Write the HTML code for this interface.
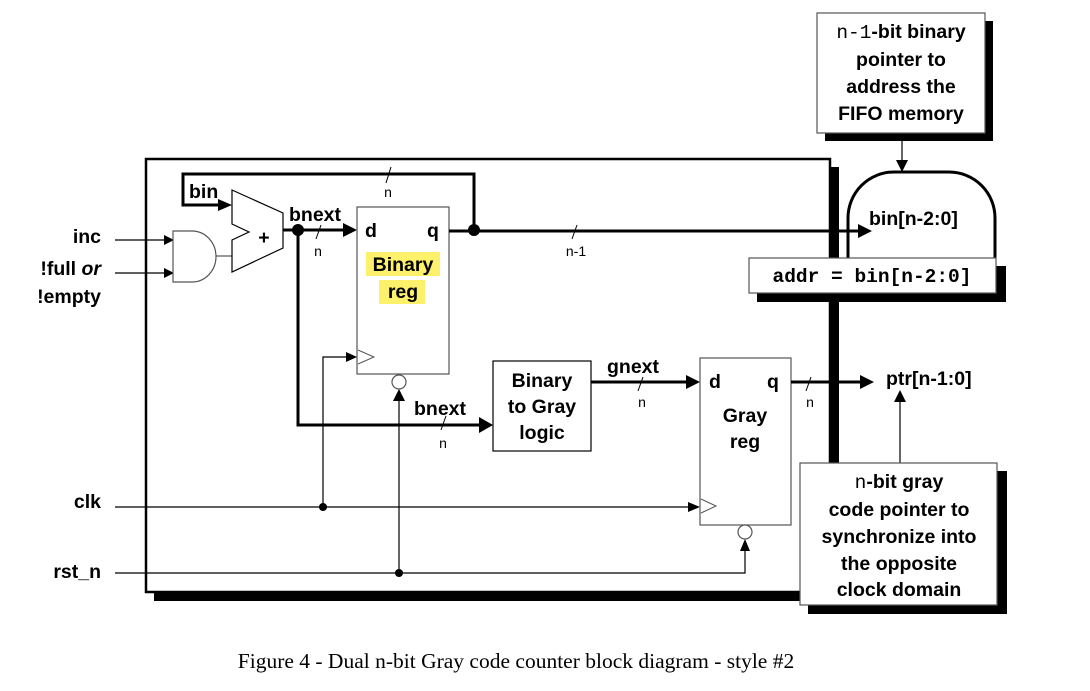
<!DOCTYPE html>
<html><head><meta charset="utf-8"><style>
body{margin:0;background:#fff;width:1090px;height:691px;overflow:hidden}
svg{display:block}
text{font-family:"Liberation Sans",Arial,sans-serif;font-weight:bold;font-size:19.5px;fill:#000}
.m{font-family:"Liberation Mono",monospace}
.s{font-size:14px;font-weight:normal}
</style></head><body>
<svg width="1090" height="691" viewBox="0 0 1090 691">
<defs>
<marker id="a" markerWidth="10" markerHeight="10" refX="9" refY="5" orient="auto" markerUnits="userSpaceOnUse"><path d="M0,0 L10,5 L0,10z"/></marker>
</defs>
<rect x="154" y="167" width="685" height="434" fill="#000"/>
<rect x="146" y="159" width="684" height="433" fill="#fff" stroke="#000" stroke-width="2.5"/>

<text x="101" y="243" text-anchor="end">inc</text>
<text x="101" y="275" text-anchor="end">!full <tspan font-style="italic">or</tspan></text>
<text x="101" y="303" text-anchor="end">!empty</text>
<text x="101" y="508" text-anchor="end">clk</text>
<text x="101" y="578" text-anchor="end">rst_n</text>
<line x1="115" y1="240" x2="173" y2="240" stroke="#000" stroke-width="1.2" marker-end="url(#a)"/>
<line x1="115" y1="273" x2="173" y2="273" stroke="#000" stroke-width="1.2" marker-end="url(#a)"/>

<path d="M173,231 H192 A24,25.5 0 0 1 192,282 H173z" fill="#fff" stroke="#555" stroke-width="1.2"/>
<line x1="216" y1="256" x2="232" y2="256" stroke="#555" stroke-width="1.2"/>
<path d="M232,190 L283,213 L283,248 L232,272 L232,240 L249,232 L232,224z" fill="#fff" stroke="#000" stroke-width="1.2"/>
<text x="264" y="244" text-anchor="middle" font-size="16">+</text>

<polyline points="474,230 474,174 183,174 183,205 228,205" fill="none" stroke="#000" stroke-width="3"/>
<path d="M218,199 L232,205 L218,211z"/>
<text x="189" y="198">bin</text>
<line x1="386" y1="183" x2="391" y2="167" stroke="#000" stroke-width="1"/>
<text x="388" y="197" class="s" text-anchor="middle" font-weight="bold">n</text>

<line x1="283" y1="230" x2="345" y2="230" stroke="#000" stroke-width="3"/>
<path d="M343,223 L357,230 L343,237z"/>
<circle cx="298" cy="230" r="6"/>
<text x="289" y="221">bnext</text>
<line x1="316" y1="239" x2="321" y2="225" stroke="#000" stroke-width="1"/>
<text x="318" y="256" class="s" font-weight="bold" text-anchor="middle">n</text>
<polyline points="298,230 298,425 481,425" fill="none" stroke="#000" stroke-width="3"/>
<path d="M479,417 L493,425 L479,433z"/>
<text x="414" y="415">bnext</text>
<line x1="441" y1="430" x2="446" y2="416" stroke="#000" stroke-width="1"/>
<text x="443" y="448" class="s" font-weight="bold" text-anchor="middle">n</text>

<rect x="357" y="207" width="92" height="167" fill="#fff" stroke="#555" stroke-width="1.2"/>
<text x="365" y="237">d</text>
<text x="427" y="237">q</text>
<rect x="366" y="252" width="74" height="24" fill="#fdf06a"/>
<rect x="379" y="280" width="46" height="24" fill="#fdf06a"/>
<text x="403" y="271" text-anchor="middle">Binary</text>
<text x="403" y="298" text-anchor="middle">reg</text>
<path d="M358,350 L374,357 L358,364" fill="none" stroke="#555" stroke-width="1"/>
<circle cx="399" cy="382" r="7" fill="#fff" stroke="#555" stroke-width="1.2"/>

<line x1="449" y1="231" x2="860" y2="231" stroke="#000" stroke-width="3"/>
<circle cx="474" cy="230" r="6"/>
<line x1="572" y1="239" x2="577" y2="225" stroke="#000" stroke-width="1"/>
<text x="576" y="256" class="s" font-weight="bold" text-anchor="middle">n-1</text>

<line x1="115" y1="507" x2="688" y2="507" stroke="#000" stroke-width="1.2"/>
<path d="M688,502 L700,507 L688,512z"/>
<circle cx="323" cy="507" r="4"/>
<polyline points="323,507 323,357 348,357" fill="none" stroke="#000" stroke-width="1.2"/>
<path d="M346,352 L357,357 L346,362z"/>
<polyline points="115,573 745,573 745,551" fill="none" stroke="#000" stroke-width="1.2"/>
<path d="M740,551 L745,539 L750,551z"/>
<circle cx="399" cy="573" r="4"/>
<line x1="399" y1="573" x2="399" y2="400" stroke="#000" stroke-width="1.2"/>
<path d="M393,401 L399,389 L405,401z"/>

<rect x="493" y="361" width="98" height="90" fill="#fff" stroke="#000" stroke-width="1.2"/>
<text x="542" y="387" text-anchor="middle">Binary</text>
<text x="542" y="413" text-anchor="middle">to Gray</text>
<text x="542" y="439" text-anchor="middle">logic</text>
<line x1="591" y1="382" x2="688" y2="382" stroke="#000" stroke-width="3"/>
<path d="M686,375 L700,382 L686,389z"/>
<text x="607" y="373">gnext</text>
<line x1="638" y1="391" x2="643" y2="377" stroke="#000" stroke-width="1"/>
<text x="642" y="407" class="s" font-weight="bold" text-anchor="middle">n</text>

<rect x="700" y="358" width="91" height="167" fill="#fff" stroke="#555" stroke-width="1.2"/>
<text x="709" y="388">d</text>
<text x="767" y="388">q</text>
<text x="745" y="422" text-anchor="middle">Gray</text>
<text x="745" y="448" text-anchor="middle">reg</text>
<path d="M701,499 L716,506 L701,513" fill="none" stroke="#555" stroke-width="1"/>
<circle cx="745" cy="532" r="7" fill="#fff" stroke="#555" stroke-width="1.2"/>
<line x1="791" y1="382" x2="862" y2="382" stroke="#000" stroke-width="3"/>
<path d="M860,375 L874,382 L860,389z"/>
<line x1="806" y1="391" x2="811" y2="377" stroke="#000" stroke-width="1"/>
<text x="810" y="407" class="s" font-weight="bold" text-anchor="middle">n</text>
<text x="886" y="385">ptr[n-1:0]</text>
<line x1="900" y1="463" x2="900" y2="402" stroke="#000" stroke-width="1.2"/>
<path d="M894,402 L900,390 L906,402z"/>

<path d="M848,260 V218 A46,46 0 0 1 894,172 H949 A46,46 0 0 1 995,218 V260" fill="#fff" stroke="#000" stroke-width="3"/>
<line x1="836" y1="231" x2="860" y2="231" stroke="#000" stroke-width="3"/>
<path d="M858,224 L872,231 L858,238z"/>
<text x="869" y="225">bin[n-2:0]</text>
<line x1="902" y1="134" x2="902" y2="162" stroke="#000" stroke-width="1.2"/>
<path d="M896,160 L902,172 L908,160z"/>

<rect x="757" y="266" width="249" height="36" fill="#000"/>
<rect x="749" y="258" width="247" height="35" fill="#fff" stroke="#555" stroke-width="1.2"/>
<text x="872" y="282" class="m" text-anchor="middle" font-size="17" font-weight="normal">addr = bin[n-2:0]</text>

<rect x="825" y="21" width="168" height="120" fill="#000"/>
<rect x="817" y="13" width="168" height="120" fill="#fff" stroke="#555" stroke-width="1.2"/>
<text x="901" y="38" text-anchor="middle"><tspan class="m" font-weight="normal">n-1</tspan>-bit binary</text>
<text x="901" y="66" text-anchor="middle">pointer to</text>
<text x="901" y="93" text-anchor="middle">address the</text>
<text x="901" y="120" text-anchor="middle">FIFO memory</text>

<rect x="808" y="471" width="199" height="143" fill="#000"/>
<rect x="800" y="463" width="197" height="142" fill="#fff" stroke="#555" stroke-width="1.2"/>
<text x="899" y="488" text-anchor="middle"><tspan class="m" font-weight="normal">n</tspan>-bit gray</text>
<text x="899" y="516" text-anchor="middle">code pointer to</text>
<text x="899" y="543" text-anchor="middle">synchronize into</text>
<text x="899" y="570" text-anchor="middle">the opposite</text>
<text x="899" y="596" text-anchor="middle">clock domain</text>

<text x="516" y="668" text-anchor="middle" style="font-family:'Liberation Serif',serif;font-weight:normal;font-size:21.5px">Figure 4 - Dual n-bit Gray code counter block diagram - style #2</text>
</svg>
</body></html>
